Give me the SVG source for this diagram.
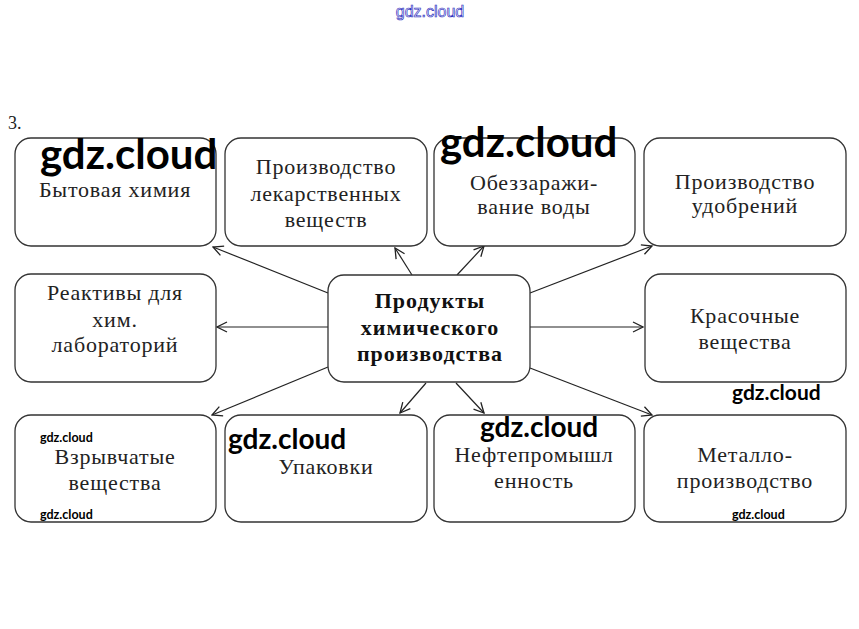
<svg xmlns="http://www.w3.org/2000/svg" width="859" height="629" viewBox="0 0 859 629">
<defs>
<marker id="ah" viewBox="0 0 12 12" refX="11" refY="6" markerWidth="12" markerHeight="12" markerUnits="userSpaceOnUse" orient="auto">
<path d="M1,1 L11,6 L1,11" fill="none" stroke="#222" stroke-width="1.3"/>
</marker>
<style>
.box{fill:#fff;stroke:#333;stroke-width:1.3}
.t{font-family:"Liberation Serif","Times New Roman",serif;font-size:22px;fill:#222;text-anchor:middle;letter-spacing:0.8px}
.tb{font-family:"Liberation Serif","Times New Roman",serif;font-size:22px;font-weight:bold;fill:#111;text-anchor:middle;letter-spacing:1px}
.c line{stroke:#222;stroke-width:1.2;marker-end:url(#ah)}
.wm{font-family:Lato,"Open Sans",sans-serif;fill:#000;font-weight:bold}
</style>
</defs>
<rect width="859" height="629" fill="#fff"/>
<text x="430" y="17" font-family="Liberation Sans,Arial,sans-serif" font-size="16" fill="#fff" stroke="#3030c0" stroke-width="0.7" text-anchor="middle">gdz.cloud</text>
<text x="8" y="129" font-family="Liberation Serif,serif" font-size="18" fill="#222">3.</text>

<g class="c">
<line x1="328" y1="293" x2="213" y2="247"/>
<line x1="412" y1="275" x2="395" y2="248"/>
<line x1="457" y1="275" x2="484" y2="246"/>
<line x1="530" y1="293" x2="652" y2="246"/>
<line x1="328" y1="327" x2="217" y2="327"/>
<line x1="530" y1="327" x2="643" y2="327"/>
<line x1="328" y1="367" x2="212" y2="415"/>
<line x1="426" y1="383" x2="400" y2="413"/>
<line x1="456" y1="383" x2="484" y2="413"/>
<line x1="530" y1="368" x2="652" y2="415"/>
</g>

<g id="n1"><rect class="box" x="15" y="138" width="201" height="108" rx="16"/><text class="t" x="115" y="197">Бытовая химия</text></g>
<g id="n2"><rect class="box" x="225" y="138" width="202" height="108" rx="16"/><text class="t" x="326" y="174">Производство</text><text class="t" x="326" y="201">лекарственных</text><text class="t" x="326" y="227">веществ</text></g>
<g id="n3"><rect class="box" x="434" y="138" width="201" height="108" rx="16"/><text class="t" x="534" y="190">Обеззаражи-</text><text class="t" x="534" y="214">вание воды</text></g>
<g id="n4"><rect class="box" x="644" y="138" width="202" height="108" rx="16"/><text class="t" x="745" y="189">Производство</text><text class="t" x="745" y="213">удобрений</text></g>

<g id="n5"><rect class="box" x="15" y="274" width="201" height="108" rx="16"/><text class="t" x="115" y="300">Реактивы для</text><text class="t" x="115" y="327">хим.</text><text class="t" x="115" y="352">лабораторий</text></g>
<g id="center"><rect class="box" x="328" y="275" width="202" height="107" rx="16"/><text class="tb" x="430" y="308">Продукты</text><text class="tb" x="430" y="335">химического</text><text class="tb" x="430" y="361">производства</text></g>
<g id="n6"><rect class="box" x="645" y="274" width="201" height="108" rx="16"/><text class="t" x="745" y="323">Красочные</text><text class="t" x="745" y="349">вещества</text></g>

<g id="n7"><rect class="box" x="15" y="415" width="201" height="107" rx="16"/><text class="t" x="115" y="464">Взрывчатые</text><text class="t" x="115" y="490">вещества</text></g>
<g id="n8"><rect class="box" x="225" y="415" width="202" height="107" rx="16"/><text class="t" x="326" y="474">Упаковки</text></g>
<g id="n9"><rect class="box" x="434" y="415" width="201" height="107" rx="16"/><text class="t" x="534" y="462">Нефтепромышл</text><text class="t" x="534" y="488">енность</text></g>
<g id="n10"><rect class="box" x="644" y="415" width="202" height="107" rx="16"/><text class="t" x="745" y="462">Металло-</text><text class="t" x="745" y="488">производство</text></g>

<text class="wm" x="40" y="169" font-size="42">gdz.cloud</text>
<text class="wm" x="440" y="157" font-size="42">gdz.cloud</text>
<text class="wm" x="732" y="400" font-size="21">gdz.cloud</text>
<text class="wm" x="228" y="449" font-size="28">gdz.cloud</text>
<text class="wm" x="480" y="437" font-size="28">gdz.cloud</text>
<text class="wm" x="40" y="442" font-size="12.5">gdz.cloud</text>
<text class="wm" x="40" y="519" font-size="12.5">gdz.cloud</text>
<text class="wm" x="732" y="519" font-size="12.5">gdz.cloud</text>
</svg>
